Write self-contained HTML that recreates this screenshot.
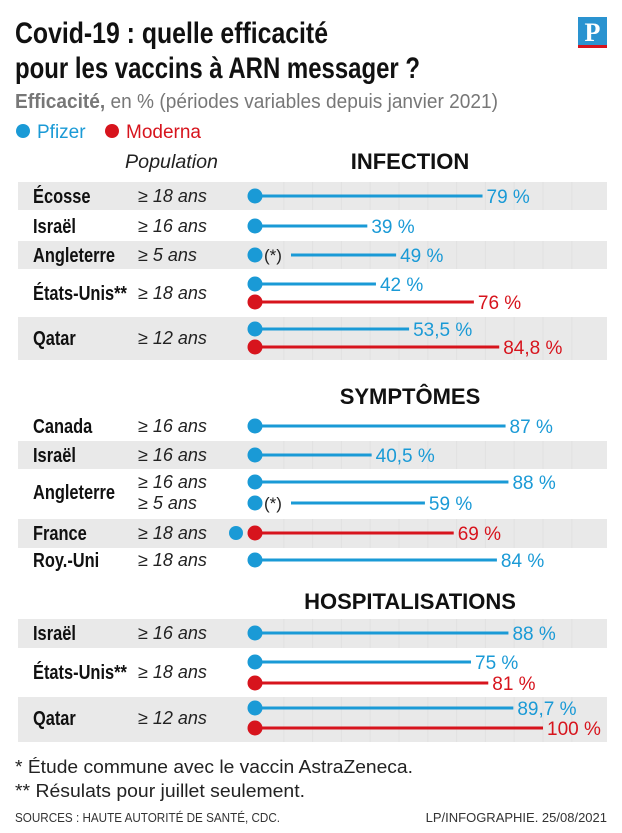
<!DOCTYPE html>
<html><head><meta charset="utf-8"><style>
html,body{margin:0;padding:0;background:#fff}
svg{display:block;font-family:"Liberation Sans Narrow","Liberation Sans",sans-serif}
</style></head><body>
<svg id="c" width="622" height="833" viewBox="0 0 622 833" xmlns="http://www.w3.org/2000/svg">
<g>
<text x="15" y="43" font-size="30" font-weight="bold" fill="#111" textLength="313" lengthAdjust="spacingAndGlyphs">Covid-19 : quelle efficacité</text>
<text x="15" y="78" font-size="30" font-weight="bold" fill="#111" textLength="405" lengthAdjust="spacingAndGlyphs">pour les vaccins à ARN messager ?</text>
<g><rect x="578" y="17" width="29" height="28" fill="#2a93d0"/><rect x="578" y="45" width="29" height="3" fill="#d7141d"/><text x="592.5" y="41" font-size="26" font-weight="bold" fill="#fff" text-anchor="middle" font-family="Liberation Serif,serif">P</text></g>
<text x="15" y="108" font-size="20" fill="#777" textLength="483" lengthAdjust="spacingAndGlyphs"><tspan font-weight="bold">Efficacité,</tspan> en % (périodes variables depuis janvier 2021)</text>
<circle cx="23" cy="131" r="7" fill="#1a9ad6"/>
<text x="37" y="138" font-size="19" fill="#1a9ad6">Pfizer</text>
<circle cx="112" cy="131" r="7" fill="#d7141d"/>
<text x="126" y="138" font-size="19" fill="#d7141d">Moderna</text>
<text x="125" y="168" font-size="19" font-style="italic" fill="#222" font-family="Liberation Sans,sans-serif" textLength="93" lengthAdjust="spacingAndGlyphs">Population</text>
</g>
<g id="bands"></g><g id="grid"></g><g id="marks"></g><g id="labels"></g>
<g font-family="Liberation Sans,sans-serif">
<text x="15" y="773" font-size="18" fill="#222" textLength="398" lengthAdjust="spacingAndGlyphs">* Étude commune avec le vaccin AstraZeneca.</text>
<text x="15" y="797" font-size="18" fill="#222" textLength="290" lengthAdjust="spacingAndGlyphs">** Résulats pour juillet seulement.</text>
<text x="15" y="822" font-size="13" fill="#333" textLength="265" lengthAdjust="spacingAndGlyphs">SOURCES : HAUTE AUTORITÉ DE SANTÉ, CDC.</text>
<text x="607" y="822" font-size="13" fill="#333" text-anchor="end">LP/INFOGRAPHIE. 25/08/2021</text>
</g>
</svg>
<script>
// data
const sections = ["INFECTION","SYMPTÔMES","HOSPITALISATIONS"];
const countries = ["Écosse","Israël","Angleterre","États-Unis**","Qatar","Canada","Israël","Angleterre","France","Roy.-Uni","Israël","États-Unis**","Qatar"];
const populations = [["≥ 18 ans"],["≥ 16 ans"],["≥ 5 ans"],["≥ 18 ans"],["≥ 12 ans"],["≥ 16 ans"],["≥ 16 ans"],["≥ 16 ans","≥ 5 ans"],["≥ 18 ans"],["≥ 18 ans"],["≥ 16 ans"],["≥ 18 ans"],["≥ 12 ans"]];
const seriesValues = [79,39,49,42,76,53.5,84.8,87,40.5,88,59,69,84,88,75,81,89.7,100];
const seriesLabels = ["79 %","39 %","49 %","42 %","76 %","53,5 %","84,8 %","87 %","40,5 %","88 %","59 %","69 %","84 %","88 %","75 %","81 %","89,7 %","100 %"];
</script>
<script>
// layout (not data)
const ns="http://www.w3.org/2000/svg";
const BLUE="#1a9ad6", RED="#d7141d";
const x0=255, x100=543;
function xs(v){return x0+(x100-x0)*v/100;}
const secY=[169,404,609];
const rowY=[196,226,255,293,338,426,455,492,533,560,633,672,718];
const bandTop=[182,241,317,441,519,619,697], bandBot=[210,269,360,469,548,648,742];
const popY=[[196],[226],[255],[293],[338],[426],[455],[482,503],[533],[560],[633],[672],[718]];
const markY=[196,226,255,284,302,329,347,426,455,482,503,533,560,633,662,683,708,728];
const markVac=["P","P","P","P","M","P","M","P","P","P","P","M","P","P","P","M","P","M"];
const markStar=[0,0,1,0,0,0,0,0,0,0,1,0,0,0,0,0,0,0];
function mk(tag,attrs,parent,txt){const e=document.createElementNS(ns,tag);for(const k in attrs)e.setAttribute(k,attrs[k]);if(txt!==undefined)e.textContent=txt;parent.appendChild(e);return e;}
const bands=document.getElementById('bands'),grid=document.getElementById('grid'),marks=document.getElementById('marks'),labels=document.getElementById('labels');
bandTop.forEach((t,i)=>{const r=mk('rect',{x:18,y:t,width:589,height:bandBot[i]-t,fill:'#e9e9e9'},bands);


for(let g=10;g<=110;g+=10){const gx=xs(g);if(gx<606)mk('line',{x1:gx,x2:gx,y1:t,y2:bandBot[i],stroke:'#e1e1e1','stroke-width':1},grid);}
});
sections.forEach((s,i)=>{const t=mk('text',{x:410,y:secY[i],'font-size':22,'font-weight':'bold','text-anchor':'middle',fill:'#111','font-family':'Liberation Sans,sans-serif'},labels,s);

});
countries.forEach((c,i)=>{const t=mk('text',{x:33,y:rowY[i]+7,'font-size':20,'font-weight':'bold',fill:'#111'},labels,c);


const w=t.getComputedTextLength();
t.setAttribute('textLength',(w*0.82).toFixed(1));
t.setAttribute('lengthAdjust','spacingAndGlyphs');
populations[i].forEach((p,j)=>{const q=mk('text',{x:138,y:popY[i][j]+6,'font-size':18,'font-style':'italic',fill:'#222','font-family':'Liberation Sans,sans-serif'},labels,p);

});
});
markY.forEach((y,i)=>{
 const v=seriesValues[i], col=markVac[i]==="P"?BLUE:RED;
 const g=mk('g',{},marks);
 
 
 let start=x0;
 if(markStar[i]){mk('text',{x:264,y:y+6,'font-size':17,fill:'#222','font-family':'Liberation Sans,sans-serif'},g,'(*)');start=291;}
 if(i===11){mk('circle',{cx:236,cy:y,r:7,fill:BLUE},g);}
 mk('line',{x1:start,x2:xs(v),y1:y,y2:y,stroke:col,'stroke-width':3},g);
 mk('circle',{cx:x0,cy:y,r:7.5,fill:col},g);
 const t=mk('text',{x:xs(v)+4,y:y+7,'font-size':19,fill:col,'font-family':'Liberation Sans,sans-serif'},g,seriesLabels[i]);
 
 
});
</script>
</body></html>
